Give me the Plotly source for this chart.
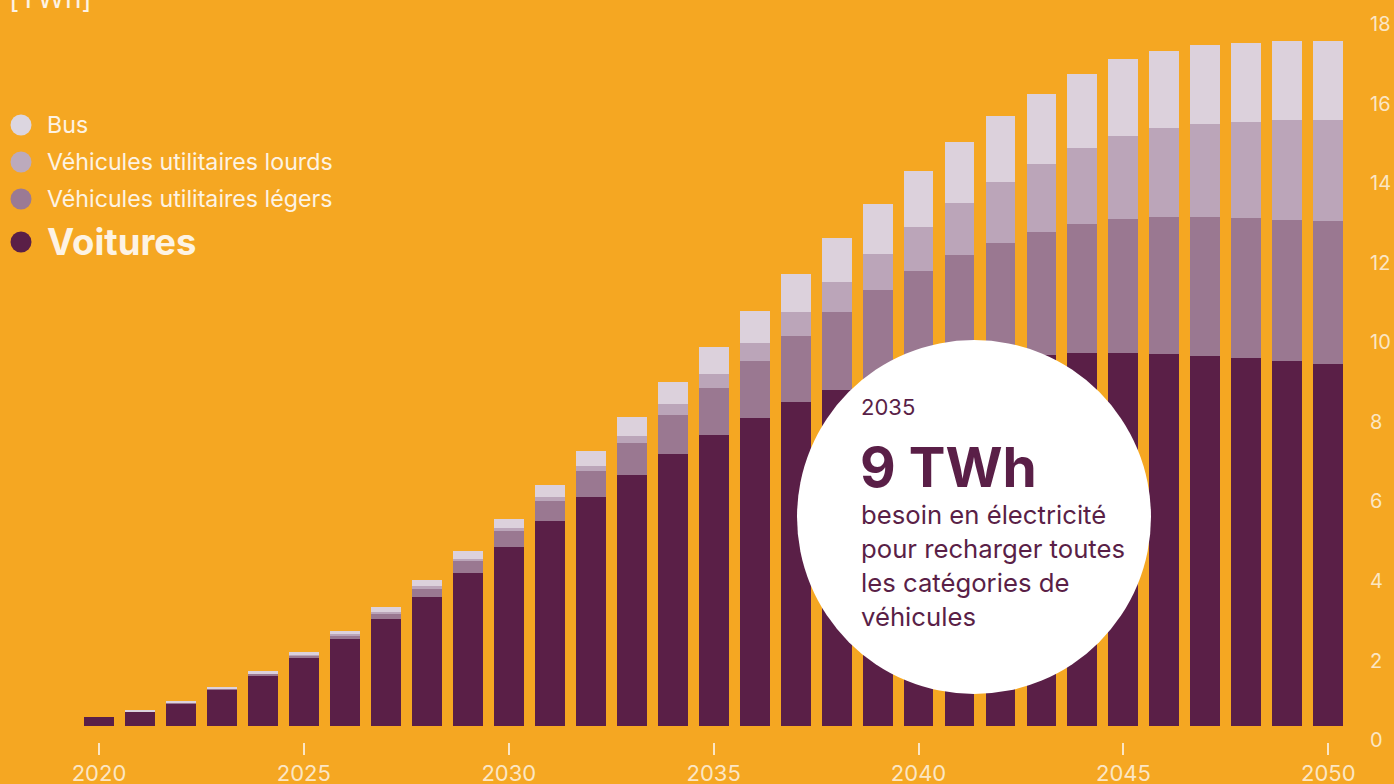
import plotly.graph_objects as go

# ---------------- data ----------------
years = list(range(2020, 2051))
voitures = [0.22, 0.36, 0.58, 0.92, 1.28, 1.70, 2.18, 2.70, 3.25, 3.86, 4.49, 5.16, 5.76, 6.31, 6.83, 7.31,
            7.75, 8.14, 8.46, 8.72, 8.93, 9.10, 9.22, 9.33, 9.37, 9.37, 9.35, 9.30, 9.24, 9.18, 9.10]
legers = [0.00, 0.01, 0.01, 0.02, 0.04, 0.07, 0.10, 0.14, 0.22, 0.29, 0.41, 0.51, 0.65, 0.80, 0.98, 1.18,
          1.42, 1.67, 1.95, 2.23, 2.50, 2.73, 2.92, 3.09, 3.24, 3.37, 3.44, 3.49, 3.53, 3.55, 3.59]
lourds = [0.00, 0.00, 0.00, 0.00, 0.01, 0.02, 0.03, 0.04, 0.04, 0.05, 0.07, 0.10, 0.13, 0.19, 0.28, 0.36,
          0.47, 0.60, 0.74, 0.91, 1.11, 1.31, 1.53, 1.71, 1.91, 2.09, 2.24, 2.34, 2.42, 2.50, 2.54]
bus = [0.00, 0.01, 0.02, 0.03, 0.05, 0.06, 0.08, 0.11, 0.15, 0.21, 0.23, 0.30, 0.38, 0.47, 0.56, 0.68,
       0.80, 0.96, 1.11, 1.26, 1.40, 1.53, 1.66, 1.77, 1.86, 1.94, 1.95, 1.98, 1.98, 1.98, 1.98]

series_names = ["Voitures", "Véhicules utilitaires légers", "Véhicules utilitaires lourds", "Bus"]
series_values = [voitures, legers, lourds, bus]
series_colors = ["#5a1f47", "#9a7891", "#bba5b9", "#dcd1dc"]

x_tickvals = [2020, 2025, 2030, 2035, 2040, 2045, 2050]
y_tickvals = [0, 2, 4, 6, 8, 10, 12, 14, 16, 18]

BG = "#f5a722"
TXT = "#fdf3e4"
TICK = "#fbe6c4"
FONT = "Inter"

# ---------------- layout geometry ----------------
W, H = 1394, 784
ML, MR, MT, MB = 58, 37, 2, 42
PW, PH = W - ML - MR, H - MT - MB


def px(X):
    return (X - ML) / PW


def py(Y):
    return (MT + PH - Y) / PH


fig = go.Figure()
for name, vals, col in zip(series_names, series_values, series_colors):
    fig.add_trace(go.Bar(x=years, y=vals, name=name, marker=dict(color=col, line=dict(width=0)),
                         showlegend=False))

shapes = []
annotations = []

# legend (manual)
legend_items = [
    ("Bus", "#dcd6e0", 125, 23.2, False),
    ("Véhicules utilitaires lourds", "#bcaabc", 162, 23.2, False),
    ("Véhicules utilitaires légers", "#9b7a94", 199, 23.2, False),
    ("Voitures", "#5a1f47", 242, 36.5, True),
]
for label, col, yc, fs, bold in legend_items:
    r = 10.5
    shapes.append(dict(type="circle", xref="paper", yref="paper",
                       x0=px(21 - r), x1=px(21 + r), y0=py(yc + r), y1=py(yc - r),
                       fillcolor=col, line=dict(width=0), layer="above"))
    annotations.append(dict(xref="paper", yref="paper", x=px(45), y=py(yc), xanchor="left", yanchor="middle",
                            text=f"<b>{label}</b>" if bold else label, showarrow=False,
                            font=dict(family=FONT, size=fs, color=TXT)))

# unit label
annotations.append(dict(xref="paper", yref="paper", x=px(7), y=py(-2), xanchor="left", yanchor="middle",
                        text="[TWh]", showarrow=False, font=dict(family=FONT, size=28, color=TXT)))

# callout circle
cx, cy, cr = 974, 517, 177
shapes.append(dict(type="circle", xref="paper", yref="paper",
                   x0=px(cx - cr), x1=px(cx + cr), y0=py(cy + cr), y1=py(cy - cr),
                   fillcolor="white", line=dict(width=0), layer="above"))
PLUM = "#5a1f47"
annotations.append(dict(xref="paper", yref="paper", x=px(859), y=py(407), xanchor="left", yanchor="middle",
                        text="2035", showarrow=False, font=dict(family=FONT, size=22, color=PLUM)))
annotations.append(dict(xref="paper", yref="paper", x=px(858), y=py(467), xanchor="left", yanchor="middle",
                        text="<b>9 TWh</b>", showarrow=False, font=dict(family=FONT, size=55, color=PLUM)))
body = ["besoin en électricité", "pour recharger toutes", "les catégories de", "véhicules"]
for i, line in enumerate(body):
    annotations.append(dict(xref="paper", yref="paper", x=px(859), y=py(514 + 34.3 * i), xanchor="left",
                            yanchor="middle", text=line, showarrow=False,
                            font=dict(family=FONT, size=25.7, color=PLUM)))

fig.update_layout(
    width=W, height=H,
    margin=dict(l=ML, r=MR, t=MT, b=MB, autoexpand=False),
    paper_bgcolor=BG, plot_bgcolor=BG,
    barmode="stack", bargap=0.27,
    showlegend=False,
    shapes=shapes, annotations=annotations,
    xaxis=dict(range=[2019, 2050.7], tickvals=x_tickvals, ticks="outside", ticklen=12, tickwidth=2,
               tickcolor=TICK, showgrid=False, zeroline=False, showline=False,
               tickfont=dict(family=FONT, size=22, color=TICK), ticklabelstandoff=0),
    yaxis=dict(range=[-0.4, 18.2], tickvals=y_tickvals, side="right", showgrid=False, zeroline=False,
               showline=False, ticks="", tickfont=dict(family=FONT, size=20, color=TICK),
               ticklabelshift=14, ticklabelstandoff=12),
)

fig.write_html("out.html", config={"displayModeBar": False},
               post_script="document.body.style.margin='0';document.body.style.overflow='hidden';"
                           "document.body.style.background='" + BG + "';")
